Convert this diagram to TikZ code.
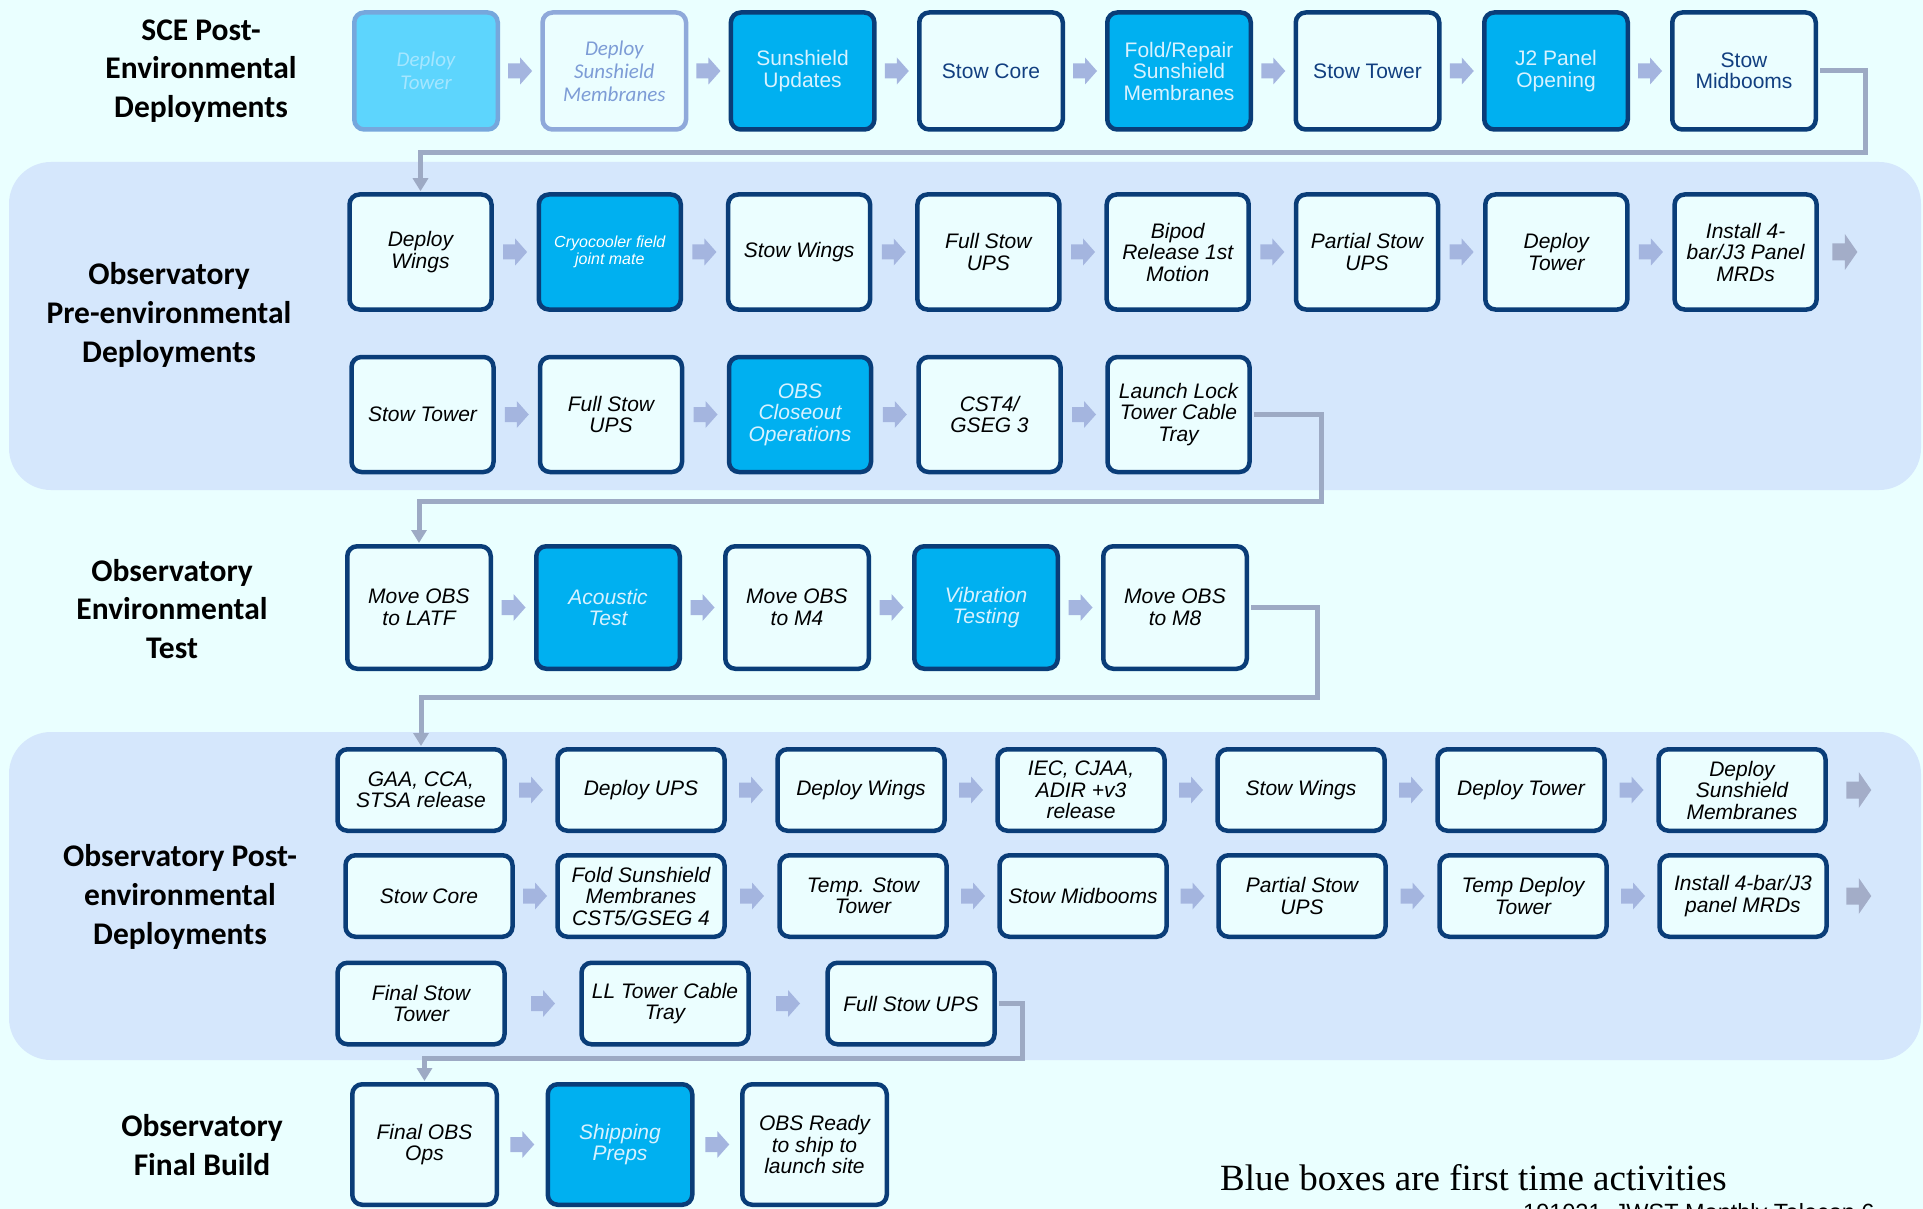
\documentclass[tikz,border=0pt]{standalone}
\usepackage{fontspec}
\setmainfont{Liberation Sans}
\newfontfamily\calib{Carlito}
\newfontfamily\tnr{Liberation Serif}
\usetikzlibrary{arrows.meta,calc}
\definecolor{pagebg}{HTML}{EAFFFF}
\definecolor{bandbg}{HTML}{D5E7FC}
\definecolor{boxfill}{HTML}{EBFEFF}
\definecolor{navy}{HTML}{0A3D78}
\definecolor{firstblue}{HTML}{00B0F0}
\definecolor{bluetext}{HTML}{D8F2FF}
\definecolor{arrowc}{HTML}{A4B5DF}
\definecolor{arrowend}{HTML}{A3ADC8}
\definecolor{connc}{HTML}{9DAAC4}
\definecolor{fadefill}{HTML}{5DD5FD}
\definecolor{fadeborder}{HTML}{76A7DC}
\definecolor{fadetext}{HTML}{A5E6FF}
\definecolor{fadeborderb}{HTML}{8FA9DA}
\definecolor{fadetextb}{HTML}{7D9CD6}
\definecolor{rowonetext}{HTML}{123F80}
\tikzset{
 tbox/.style={draw=navy, line width=4.5pt, rounded corners=10pt, fill=boxfill, align=center, inner sep=2pt, font=\fontsize{21}{21.5}\selectfont\itshape, text=black},
 rowA/.style={tbox, minimum width=143.5pt, minimum height=117pt, font=\fontsize{21}{21.5}\selectfont, text=rowonetext},
 rowB/.style={tbox, minimum width=142pt, minimum height=115pt},
 rowC/.style={tbox, minimum width=143.5pt, minimum height=122.5pt},
 rowD/.style={tbox, minimum width=167pt, minimum height=81.5pt},
 rowE/.style={tbox, minimum width=144.5pt, minimum height=120.5pt},
 firstact/.style={fill=firstblue, text=bluetext},
 grp/.style={font=\calib\bfseries\fontsize{31.5}{38.6}\selectfont, align=center, text=black, inner sep=0pt},
 conn/.style={draw=connc, line width=5pt, shorten <=2pt, shorten >=1pt, -{Triangle[width=15pt,length=13pt]}},
 band/.style={fill=bandbg, rounded corners=42pt},
 blk/.pic={\fill[arrowc] (-12,-7.5) -- (0,-7.5) -- (0,-13.5) -- (12,0) -- (0,13.5) -- (0,7.5) -- (-12,7.5) -- cycle;},
 blkend/.pic={\fill[arrowend] (-12.5,-8.5) -- (0,-8.5) -- (0,-18) -- (12.5,0) -- (0,18) -- (0,8.5) -- (-12.5,8.5) -- cycle;},
}
\begin{document}
\begin{tikzpicture}[x=1pt,y=-1pt]
\useasboundingbox (0,0) rectangle (1923,1209);
\clip (0,0) rectangle (1923,1209);
\fill[pagebg] (0,0) rectangle (1923,1209);
\fill[band] (9,162) rectangle (1921,490);
\fill[band] (9,732) rectangle (1921,1060);

% group labels
\node[grp] (g1) at (201,71) {SCE Post-\\Environmental\\Deployments};
\node[grp] (g2) at (169,315) {Observatory\\Pre-environmental\\Deployments};
\node[grp] (g3) at (172,609) {Observatory\\Environmental\\Test};
\node[grp] (g4) at (180,897) {Observatory Post-\\environmental\\Deployments};
\node[grp] (g5) at (202,1145) {Observatory\\Final Build};

% row 1
\node[rowA, fill=fadefill, draw=fadeborder, text=fadetext, font=\calib\itshape\fontsize{21}{23}\selectfont] (s1) at (426,71) {Deploy\\Tower};
\node[rowA, draw=fadeborderb, text=fadetextb, font=\calib\itshape\fontsize{21}{23}\selectfont] (s2) at (614.3,71) {Deploy\\Sunshield\\Membranes};
\node[rowA, firstact] (s3) at (802.6,71) {Sunshield\\Updates};
\node[rowA] (s4) at (991,71) {Stow Core};
\node[rowA, firstact] (s5) at (1179,71) {Fold/Repair\\Sunshield\\Membranes};
\node[rowA] (s6) at (1367.5,71) {Stow Tower};
\node[rowA, firstact] (s7) at (1556,71) {J2 Panel\\Opening};
\node[rowA] (s8) at (1744,71) {Stow\\Midbooms};

% row 2a
\node[rowB] (p1) at (420.5,252) {Deploy\\Wings};
\node[rowB, firstact, text=white, font=\fontsize{16}{17}\selectfont\itshape] (p2) at (609.8,252) {Cryocooler field\\joint mate};
\node[rowB] (p3) at (799.1,252) {Stow Wings};
\node[rowB] (p4) at (988.4,252) {Full Stow\\UPS};
\node[rowB] (p5) at (1177.7,252) {Bipod\\Release 1st\\Motion};
\node[rowB] (p6) at (1367,252) {Partial Stow\\UPS};
\node[rowB] (p7) at (1556.3,252) {Deploy\\Tower};
\node[rowB] (p8) at (1745.6,252) {Install 4-\\bar/J3 Panel\\MRDs};

% row 2b
\node[rowB] (q1) at (422.5,414.5) {Stow Tower};
\node[rowB] (q2) at (611,414.5) {Full Stow\\UPS};
\node[rowB, firstact] (q3) at (800,414.5) {OBS\\Closeout\\Operations};
\node[rowB] (q4) at (989.5,414.5) {CST4/\\GSEG 3};
\node[rowB] (q5) at (1178.5,414.5) {Launch Lock\\Tower Cable\\Tray};

% row 3
\node[rowC] (e1) at (419,607.5) {Move OBS\\to LATF};
\node[rowC, firstact] (e2) at (608,607.5) {Acoustic\\Test};
\node[rowC] (e3) at (797,607.5) {Move OBS\\to M4};
\node[rowC, firstact] (e4) at (986,607.5) {Vibration\\Testing};
\node[rowC] (e5) at (1175,607.5) {Move OBS\\to M8};

% row 4a
\node[rowD] (a1) at (421,790) {GAA, CCA,\\STSA release};
\node[rowD] (a2) at (641,790) {Deploy UPS};
\node[rowD] (a3) at (861,790) {Deploy Wings};
\node[rowD] (a4) at (1081,790) {IEC, CJAA,\\ADIR +v3\\release};
\node[rowD] (a5) at (1301,790) {Stow Wings};
\node[rowD] (a6) at (1521,790) {Deploy Tower};
\node[rowD] (a7) at (1742,790) {Deploy\\Sunshield\\Membranes};

% row 4b
\node[rowD] (b1) at (429,896) {Stow Core};
\node[rowD] (b2) at (641,896) {Fold Sunshield\\Membranes\\CST5/GSEG 4};
\node[rowD] (b3) at (863,896) {Temp. Stow\\Tower};
\node[rowD] (b4) at (1083,896) {Stow Midbooms};
\node[rowD] (b5) at (1302,896) {Partial Stow\\UPS};
\node[rowD] (b6) at (1523,896) {Temp Deploy\\Tower};
\node[rowD] (b7) at (1743,896) {Install 4-bar/J3\\panel MRDs};

% row 4c
\node[rowD] (c1) at (421,1003.5) {Final Stow\\Tower};
\node[rowD] (c2) at (665,1003.5) {LL Tower Cable\\Tray};
\node[rowD] (c3) at (911,1003.5) {Full Stow UPS};

% row 5
\node[rowE] (f1) at (424.5,1144.5) {Final OBS\\Ops};
\node[rowE, firstact] (f2) at (620,1144.5) {Shipping\\Preps};
\node[rowE] (f3) at (814.5,1144.5) {OBS Ready\\to ship to\\launch site};

% block arrows between boxes
\foreach \a/\b in {s1/s2,s2/s3,s3/s4,s4/s5,s5/s6,s6/s7,s7/s8,
  p1/p2,p2/p3,p3/p4,p4/p5,p5/p6,p6/p7,p7/p8,
  q1/q2,q2/q3,q3/q4,q4/q5,
  e1/e2,e2/e3,e3/e4,e4/e5,
  a1/a2,a2/a3,a3/a4,a4/a5,a5/a6,a6/a7,
  b1/b2,b2/b3,b3/b4,b4/b5,b5/b6,b6/b7,
  c1/c2,c2/c3,
  f1/f2,f2/f3}
  \path ($(\a.east)!0.5!(\b.west)$) pic {blk};
\path ($(p8.east)+(26,0)$) pic {blkend};
\path ($(a7.east)+(31,0)$) pic {blkend};
\path ($(b7.east)+(30,0)$) pic {blkend};

% connectors between rows
\coordinate (k1) at (1865,153);
\coordinate (k2) at (1321,501);
\coordinate (k3) at (1317,697);
\coordinate (k4) at (1022,1058);
\draw[conn] (s8.east) -| (k1) -| (p1.north);
\draw[conn] (q5.east) -| (k2) -| (e1.north);
\draw[conn] (e5.east) -| (k3) -| (a1.north);
\draw[conn] (c3.east) -| (k4) -| (f1.north);

% notes
\node[anchor=base west, font=\tnr\fontsize{37}{37}\selectfont, inner sep=0pt] (note) at (1220,1190) {Blue boxes are first time activities};
\node[anchor=base west, font=\fontsize{23.5}{23.5}\selectfont, inner sep=0pt] (foot) at (1523,1220) {191021\ \ JWST Monthly Telecon 6};
\end{tikzpicture}
\end{document}
